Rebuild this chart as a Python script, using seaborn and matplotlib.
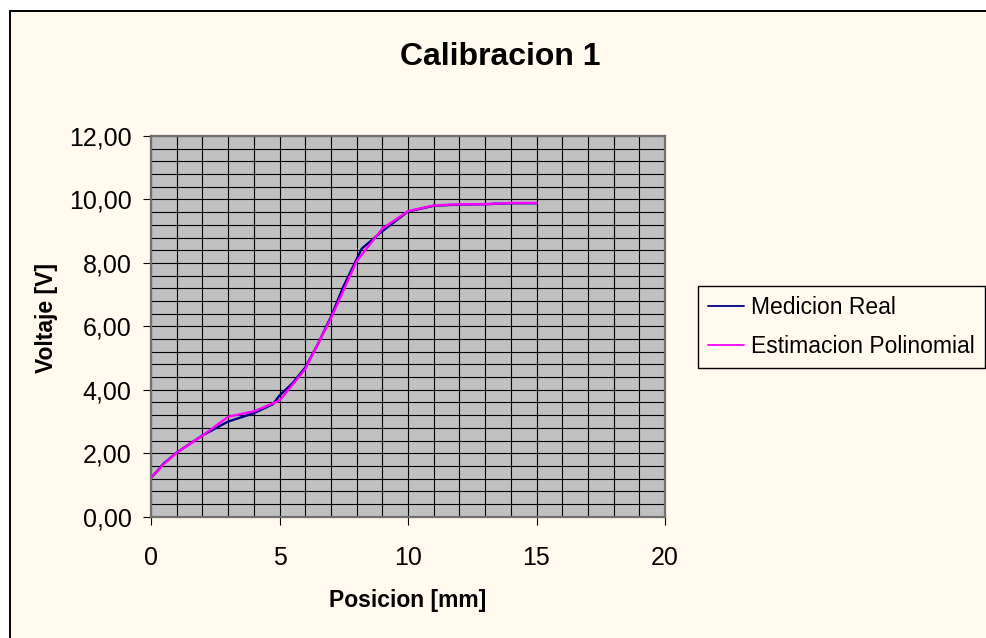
import matplotlib
matplotlib.use("Agg")
import matplotlib.pyplot as plt
import pandas as pd
import seaborn as sns
from matplotlib.lines import Line2D
from matplotlib.ticker import MultipleLocator, FuncFormatter

# Measured sensor voltage against position
pos_real = [0, 0.5, 1, 2, 3, 4, 4.75, 5, 5.5, 6, 6.5, 7, 7.5, 8.2, 9, 10, 11, 12, 13, 14, 15]
volt_real = [1.22, 1.68, 2.02, 2.56, 3.00, 3.26, 3.55, 3.82, 4.20, 4.70, 5.45, 6.30, 7.28,
             8.45, 9.00, 9.62, 9.80, 9.84, 9.85, 9.88, 9.88]

# Polynomial fit evaluated at the same positions
pos_poly = [0, 0.5, 1, 2, 3, 4, 5, 6, 7, 8, 9, 10, 11, 12, 13, 14, 15]
volt_poly = [1.22, 1.66, 2.02, 2.55, 3.15, 3.32, 3.66, 4.65, 6.25, 8.05, 9.08, 9.63,
             9.81, 9.85, 9.85, 9.89, 9.89]

series_names = ["Medicion Real", "Estimacion Polinomial"]
series_colors = ["#000080", "#FF00FF"]

title_text = "Calibracion 1"
x_label = "Posicion [mm]"
y_label = "Voltaje [V]"

df = pd.concat([
    pd.DataFrame({"pos": pos_real, "volt": volt_real, "serie": series_names[0]}),
    pd.DataFrame({"pos": pos_poly, "volt": volt_poly, "serie": series_names[1]}),
], ignore_index=True)

sns.set_style("white")
plt.rcParams["font.family"] = ["Liberation Sans", "DejaVu Sans"]
plt.rcParams.update({"text.color": "black", "axes.labelcolor": "black",
                     "xtick.color": "black", "ytick.color": "black"})

cream = "#FFF9EE"
W, H = 987, 638
fig = plt.figure(figsize=(W / 100, H / 100), dpi=100, facecolor=cream)

# white margin above and left of the chart frame, plus the frame's top/left edges
fig.patches.append(plt.Rectangle((0, 1 - 11 / H), 1, 11 / H, transform=fig.transFigure,
                                 facecolor="white", edgecolor="none", zorder=-5))
fig.patches.append(plt.Rectangle((0, 0), 10 / W, 1, transform=fig.transFigure,
                                 facecolor="white", edgecolor="none", zorder=-5))
fig.lines.append(Line2D([10 / W, 1], [1 - 11 / H, 1 - 11 / H], transform=fig.transFigure,
                        color="black", linewidth=1.4))
fig.lines.append(Line2D([10 / W, 10 / W], [0, 1 - 11 / H], transform=fig.transFigure,
                        color="black", linewidth=1.4))

ax = fig.add_axes([151 / W, (H - 516.7) / H, 514 / W, 380.7 / H])
ax.set_facecolor("#C0C0C0")

sns.lineplot(data=df, x="pos", y="volt", hue="serie", hue_order=series_names,
             palette=dict(zip(series_names, series_colors)), estimator=None,
             sort=False, errorbar=None, linewidth=1.7, ax=ax)

ax.set_xlim(0, 20)
ax.set_ylim(0, 12)
ax.xaxis.set_major_locator(MultipleLocator(5))
ax.xaxis.set_minor_locator(MultipleLocator(1))
ax.yaxis.set_major_locator(MultipleLocator(2))
ax.yaxis.set_minor_locator(MultipleLocator(0.4))
ax.yaxis.set_major_formatter(FuncFormatter(lambda v, p: f"{v:.2f}".replace(".", ",")))
ax.xaxis.set_major_formatter(FuncFormatter(lambda v, p: f"{v:.0f}"))

ax.grid(which="both", color="black", linewidth=0.8)
ax.set_axisbelow(True)
ax.tick_params(which="minor", length=0)
ax.tick_params(axis="y", which="major", direction="out", length=6, width=0.8,
               color="black", pad=8, labelsize=18)
ax.tick_params(axis="x", which="major", direction="out", length=6, width=0.8,
               color="black", pad=15, labelsize=18)
ax.tick_params(left=True, bottom=True)
for sp in ax.spines.values():
    sp.set_color("#707070")
    sp.set_linewidth(1.6)

ax.set_xlabel(x_label, fontsize=16.5, fontweight="bold")
ax.set_ylabel(y_label, fontsize=16.5, fontweight="bold")
ax.xaxis.set_label_coords(0.5, -0.19)
ax.yaxis.set_label_coords(-0.181, 0.522)

fig.text(500 / W, 1 - 57 / H, title_text, fontsize=23, fontweight="bold",
         ha="center", va="center")

handles, labels = ax.get_legend_handles_labels()
leg = ax.legend(handles, labels, loc="upper left",
                bbox_to_anchor=(698 / W, 1 - 286 / H), bbox_transform=fig.transFigure,
                borderaxespad=0, fontsize=16.5, handlelength=1.6, handletextpad=0.3,
                borderpad=0.42, labelspacing=0.72, fancybox=False, framealpha=1,
                facecolor=cream, edgecolor="black")
leg.get_frame().set_linewidth(1.0)
for ln in leg.get_lines():
    ln.set_linewidth(1.3)

fig.savefig("out.png", dpi=100, facecolor=cream)
